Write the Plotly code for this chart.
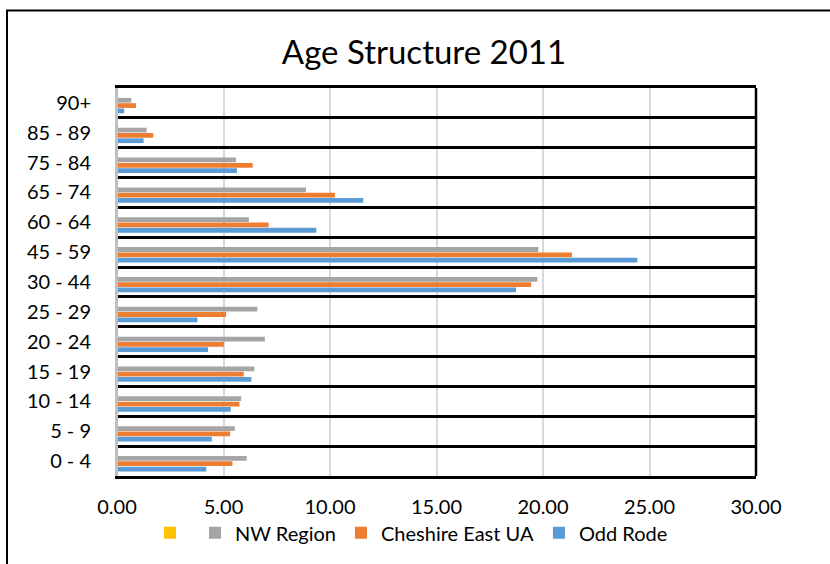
import plotly.graph_objects as go

categories = ["0 - 4", "5 - 9", "10 - 14", "15 - 19", "20 - 24", "25 - 29", "30 - 44",
              "45 - 59", "60 - 64", "65 - 74", "75 - 84", "85 - 89", "90+"]
odd_rode = [4.19, 4.45, 5.34, 6.31, 4.27, 3.78, 18.73, 24.43, 9.36, 11.56, 5.63, 1.25, 0.34]
cheshire_east = [5.42, 5.31, 5.75, 5.95, 5.02, 5.12, 19.44, 21.36, 7.12, 10.23, 6.37, 1.70, 0.89]
nw_region = [6.09, 5.53, 5.83, 6.45, 6.94, 6.59, 19.74, 19.78, 6.19, 8.87, 5.58, 1.39, 0.67]
blank_series = [None] * 13
x_ticks = [0, 5, 10, 15, 20, 25, 30]

FONT = "Lato"

fig = go.Figure()
fig.add_trace(go.Bar(y=categories, x=odd_rode, name="Odd Rode", orientation="h",
                     marker=dict(color="#5B9BD5", line=dict(width=0))))
fig.add_trace(go.Bar(y=categories, x=cheshire_east, name="Cheshire East UA", orientation="h",
                     marker=dict(color="#ED7D31", line=dict(width=0))))
fig.add_trace(go.Bar(y=categories, x=nw_region, name="NW Region", orientation="h",
                     marker=dict(color="#A5A5A5", line=dict(width=0))))
fig.add_trace(go.Bar(y=categories, x=blank_series, name="", orientation="h",
                     marker=dict(color="#FFC000", line=dict(width=0))))

L, R, T, B = 117, 74, 88, 86
W, H = 830, 564
pw = W - L - R
ph = H - T - B

def px_x(p):
    return (p - L) / pw

def px_y(p):
    return (H - B - p) / ph

fig.update_layout(
    width=W, height=H,
    margin=dict(l=L, r=R, t=T, b=B),
    paper_bgcolor="white", plot_bgcolor="white",
    barmode="group", bargap=0.29, bargroupgap=0.1,
    font=dict(family=FONT, size=20, color="#000000"),
    title=dict(text="Age Structure 2011", x=424 / W, xanchor="center",
               y=1 - 52 / H, yanchor="middle", yref="container",
               font=dict(family=FONT, size=33, color="#000000")),
    xaxis=dict(range=[0, 30], tickvals=x_ticks, tickformat=".2f",
               showgrid=True, gridcolor="#D9D9D9", gridwidth=2,
               zeroline=False, showline=True, linecolor="#000000", linewidth=2.5,
               mirror=True, ticks="",
               ticklabelstandoff=11, fixedrange=True),
    yaxis=dict(type="category", categoryorder="array", categoryarray=categories,
               tickson="boundaries", showgrid=True, gridcolor="#000000", gridwidth=2.5,
               showline=True, linecolor="#BFBFBF", linewidth=2, ticks="",
               ticklabelstandoff=20, zeroline=False),
    legend=dict(orientation="h", traceorder="reversed",
                x=px_x(150), xanchor="left", y=px_y(535), yanchor="middle",
                font=dict(family=FONT, size=20), bgcolor="rgba(0,0,0,0)"),
    showlegend=True,
)

fig.add_shape(type="line", xref="paper", yref="paper", x0=1, x1=1, y0=0, y1=1,
              line=dict(color="#000000", width=2.5))
fig.add_shape(type="line", xref="paper", yref="paper", x0=0, x1=0, y0=0, y1=1,
              line=dict(color="#BFBFBF", width=2))
fig.add_shape(type="rect", xref="paper", yref="paper",
              x0=px_x(7), x1=px_x(840), y0=px_y(580), y1=px_y(10),
              line=dict(color="#000000", width=2), fillcolor="rgba(0,0,0,0)", layer="above")

fig.write_html("out.html")
